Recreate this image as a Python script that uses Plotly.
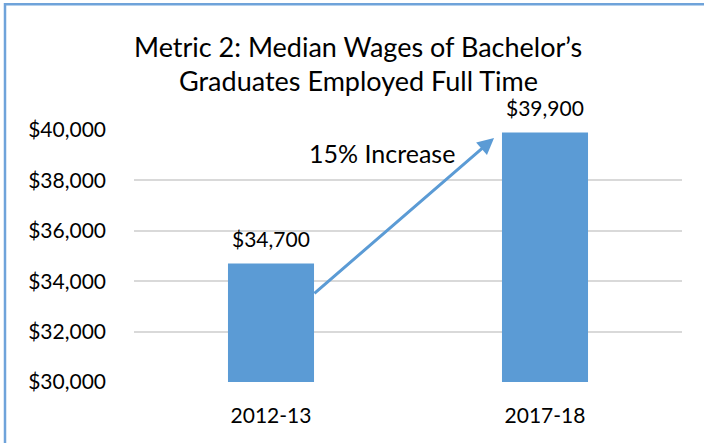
import plotly.graph_objects as go

categories = ["2012-13", "2017-18"]
wages = [34700, 39900]
value_labels = ["$34,700", "$39,900"]
tick_vals = [30000, 32000, 34000, 36000, 38000, 40000]
tick_text = ["$30,000", "$32,000", "$34,000", "$36,000", "$38,000", "$40,000"]

W, H = 704, 443
L, R, T, B = 134, 22, 130, 60.5
pw, ph = W - L - R, H - T - B

FONT = "Lato"
BLUE = "#5B9BD5"


def px(pix):
    return (pix - L) / pw


def py(pix):
    return (H - B - pix) / ph


fig = go.Figure()
fig.add_trace(go.Bar(
    x=categories, y=wages, marker=dict(color=BLUE, line=dict(width=0)),
    hoverinfo="skip",
))

annotations = []
for c, v, t in zip(categories, wages, value_labels):
    annotations.append(dict(x=c, y=v, text=t, showarrow=False, xref="x", yref="y",
                            yanchor="middle", yshift=25,
                            font=dict(family=FONT, size=21, color="#000")))

# title (two lines)
annotations.append(dict(x=px(358), y=py(46), xref="paper", yref="paper",
                        text="Metric 2: Median Wages of Bachelor’s", showarrow=False,
                        font=dict(family=FONT, size=27, color="#000"), yanchor="middle"))
annotations.append(dict(x=px(358), y=py(80), xref="paper", yref="paper",
                        text="Graduates Employed Full Time", showarrow=False,
                        font=dict(family=FONT, size=27, color="#000"), yanchor="middle"))

# increase label
annotations.append(dict(x=0.405, y=39089, xref="x", yref="y", text="15% Increase",
                        showarrow=False, font=dict(family=FONT, size=25, color="#000")))
# arrow
annotations.append(dict(x=0.814, y=39683, ax=0.153, ay=33465, xref="x", yref="y",
                        axref="x", ayref="y", text="", showarrow=True,
                        arrowhead=2, arrowsize=1.1, arrowwidth=3, arrowcolor=BLUE))

shapes = [dict(type="rect", xref="paper", yref="paper",
               x0=px(5), x1=px(W + 40), y0=py(H + 40), y1=py(4),
               line=dict(color="#6FA3DA", width=2.5), fillcolor="rgba(0,0,0,0)", layer="above")]

fig.update_layout(
    width=W, height=H,
    margin=dict(l=L, r=R, t=T, b=B, pad=0),
    paper_bgcolor="white", plot_bgcolor="white",
    showlegend=False,
    bargap=0.686,
    annotations=annotations,
    shapes=shapes,
    font=dict(family=FONT, color="#000"),
    xaxis=dict(showgrid=False, zeroline=False, showline=False, ticks="",
               tickfont=dict(family=FONT, size=21, color="#000"),
               ticklabelstandoff=19, fixedrange=True),
    yaxis=dict(range=[30000, 40000], tickvals=tick_vals, ticktext=tick_text,
               showgrid=True, gridcolor="#D9D9D9", gridwidth=1.5,
               zeroline=False, showline=False, ticks="",
               tickfont=dict(family=FONT, size=21, color="#000"),
               ticklabelstandoff=27, fixedrange=True),
)

fig.write_html("out.html", config={"displayModeBar": False})
